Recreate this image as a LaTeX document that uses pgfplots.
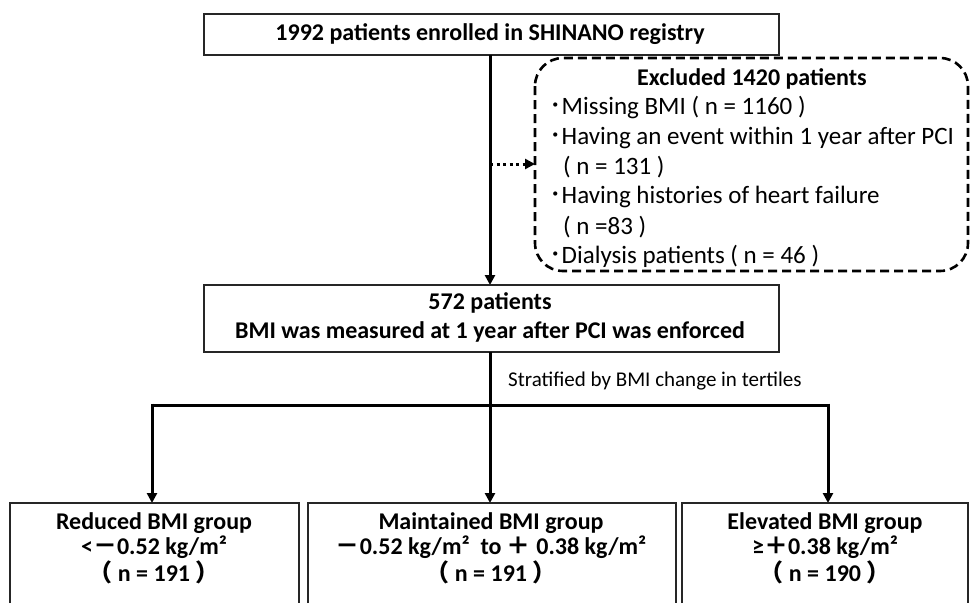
\documentclass[border=0pt]{standalone}
\usepackage{pgfplots}
\pgfplotsset{compat=1.18}
\usepackage{fontspec}
\setmainfont{Carlito}
\newfontfamily\cjk{Noto Sans CJK JP}
\usetikzlibrary{arrows.meta}
\begin{document}
\begin{tikzpicture}
\begin{axis}[name=ax, at={(0,0)}, anchor=south west,
  scale only axis, width=970pt, height=603pt,
  xmin=0, xmax=970, ymin=0, ymax=603, y dir=reverse,
  axis lines=none, clip=false]
\tikzset{box/.style={draw=black!85, line width=1.4pt},
  arr/.style={line width=3pt, -{Triangle[width=10pt,length=10pt]}}}
% top box
\draw[box] (axis cs:204,14) rectangle (axis cs:779,55);
\node[font=\fontsize{24}{28}\selectfont\bfseries] at (axis cs:490,34) {1992 patients enrolled in SHINANO registry};
% main arrow
\draw[arr] (axis cs:490,55) -- (axis cs:490,285);
% dotted arrow
\draw[line width=3pt, dash pattern=on 3pt off 3.5pt, -{Triangle[width=10pt,length=10pt]}] (axis cs:490,164) -- (axis cs:535,164);
% dashed box
\draw[line width=2.6pt, dash pattern=on 9pt off 5pt, rounded corners=28pt] (axis cs:535,58) rectangle (axis cs:968,271);
\node[font=\fontsize{24}{28}\selectfont\bfseries] at (axis cs:752,79) {Excluded 1420 patients};
\begin{scope}[every node/.style={anchor=west, inner sep=0pt, font=\fontsize{25}{29}\selectfont}]
\node at (axis cs:549,108) {{\cjk ･}Missing BMI ( n = 1160 )};
\node at (axis cs:549,138) {{\cjk ･}Having an event within 1 year after PCI};
\node at (axis cs:563,167) {( n = 131 )};
\node at (axis cs:549,197) {{\cjk ･}Having histories of heart failure};
\node at (axis cs:563,227) {( n =83 )};
\node at (axis cs:549,256) {{\cjk ･}Dialysis patients ( n = 46 )};
\end{scope}
% second box
\draw[box] (axis cs:204,285) rectangle (axis cs:779,352);
\node[font=\fontsize{24}{28}\selectfont\bfseries] at (axis cs:490,303) {572 patients};
\node[font=\fontsize{24}{28}\selectfont\bfseries] at (axis cs:490,332) {BMI was measured at 1 year after PCI was enforced};
% stem and branches
\draw[line width=3pt] (axis cs:490,352) -- (axis cs:490,405);
\draw[line width=3pt] (axis cs:152,405) -- (axis cs:828,405);
\node[anchor=west, inner sep=0pt, font=\fontsize{21}{25}\selectfont] at (axis cs:508,381) {Stratified by BMI change in tertiles};
\draw[arr] (axis cs:152,403.5) -- (axis cs:152,503);
\draw[arr] (axis cs:490,403.5) -- (axis cs:490,503);
\draw[arr] (axis cs:828,403.5) -- (axis cs:828,503);
% bottom boxes (open at the bottom, cut by the frame)
\draw[box] (axis cs:10,603) -- (axis cs:10,503) -- (axis cs:299,503) -- (axis cs:299,603);
\draw[box] (axis cs:308,603) -- (axis cs:308,503) -- (axis cs:676,503) -- (axis cs:676,603);
\draw[box] (axis cs:682,603) -- (axis cs:682,503) -- (axis cs:968,503) -- (axis cs:968,603);
\begin{scope}[every node/.style={font=\fontsize{24}{28}\selectfont\bfseries}]
\node at (axis cs:154,523) {Reduced BMI group};
\node at (axis cs:154,547) {<{\cjk －}0.52 kg/m²};
\node at (axis cs:154,572) {{\cjk （} n = 191 {\cjk ）}};
\node at (axis cs:491,523) {Maintained BMI group};
\node at (axis cs:491,547) {{\cjk －}0.52 kg/m²\ \ to {\cjk ＋} 0.38 kg/m²};
\node at (axis cs:491,572) {{\cjk （} n = 191 {\cjk ）}};
\node at (axis cs:825,523) {Elevated BMI group};
\node at (axis cs:825,547) {≥{\cjk ＋}0.38 kg/m²};
\node at (axis cs:825,572) {{\cjk （} n = 190 {\cjk ）}};
\end{scope}
\end{axis}
\pgfresetboundingbox
\path[use as bounding box] (ax.south west) rectangle (ax.north east);
\end{tikzpicture}
\end{document}
